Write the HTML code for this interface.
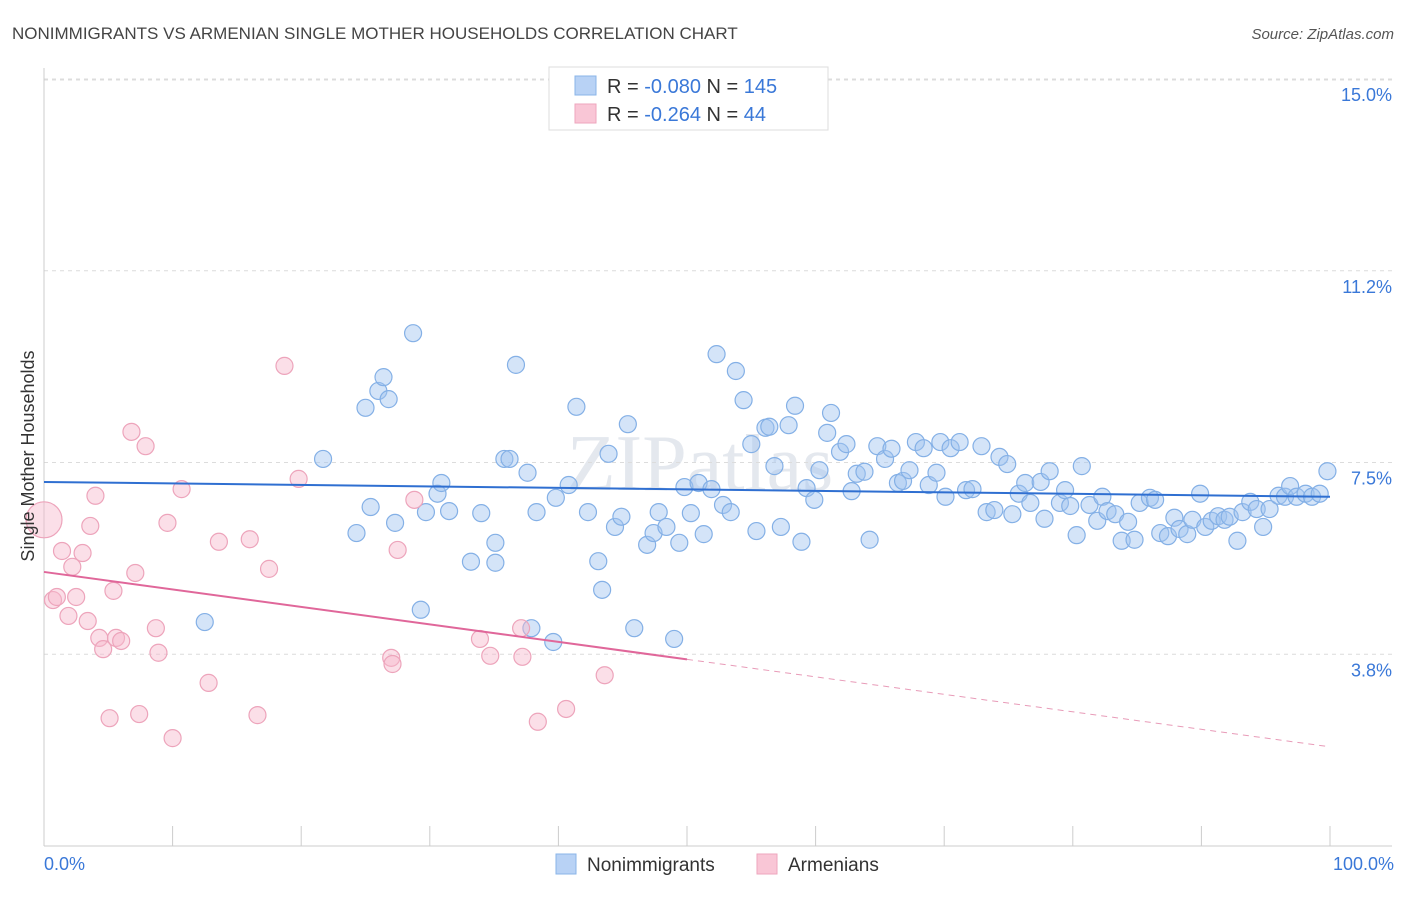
<!DOCTYPE html>
<html><head><meta charset="utf-8"><style>
body{margin:0;background:#fff;font-family:"Liberation Sans",sans-serif}
</style></head><body>
<svg width="1406" height="892" xmlns="http://www.w3.org/2000/svg" style="font-family:'Liberation Sans',sans-serif">
<text x="12" y="39" font-size="17" fill="#444">NONIMMIGRANTS VS ARMENIAN SINGLE MOTHER HOUSEHOLDS CORRELATION CHART</text>
<text x="1394" y="39" font-size="15" fill="#555" text-anchor="end" font-style="italic">Source: ZipAtlas.com</text>
<text x="700" y="490" font-size="80" fill="#e4e8ee" text-anchor="middle" font-family="Liberation Serif">ZIPatlas</text>
<g id="grid"></g>
<g id="axes"></g>
<g id="pts"></g>
<g id="trend"></g>
<text transform="translate(34,456) rotate(-90)" font-size="18" fill="#333" text-anchor="middle">Single Mother Households</text>
<g>
<rect x="549" y="67" width="279" height="63" fill="#fff" stroke="#ddd"/>
<rect x="575" y="76" width="21" height="19" fill="#b8d2f5" stroke="#8ab4e8"/>
<rect x="575" y="104" width="21" height="19" fill="#f9c6d6" stroke="#eea6bd"/>
<text x="607" y="93" font-size="20" fill="#333">R = <tspan fill="#3a78d8">-0.080</tspan>   N = <tspan fill="#3a78d8">145</tspan></text>
<text x="607" y="121" font-size="20" fill="#333">R = <tspan fill="#3a78d8"> -0.264</tspan>   N = <tspan fill="#3a78d8"> 44</tspan></text>
</g>
<g>
<rect x="556" y="854" width="20" height="20" fill="#b8d2f5" stroke="#8ab4e8"/>
<text x="587" y="871" font-size="19" fill="#333">Nonimmigrants</text>
<rect x="757" y="854" width="20" height="20" fill="#f9c6d6" stroke="#eea6bd"/>
<text x="788" y="871" font-size="19" fill="#333">Armenians</text>
</g>
</svg>
<script>
const yTicks=[3.75,7.5,11.25,15];
const yTickLabels=["3.8%","7.5%","11.2%","15.0%"];
const xTickLabels=["0.0%","100.0%"];
const blueX=[12.5,21.7,24.3,25.0,26.0,26.4,26.8,25.4,27.3,28.7,29.3,29.7,30.6,30.9,31.5,33.2,34.0,35.1,35.1,35.8,36.2,36.7,37.6,37.9,38.3,39.6,39.8,40.8,41.4,42.3,43.1,43.4,43.9,44.4,44.9,45.4,45.9,46.9,47.4,47.8,48.4,49.0,49.4,49.8,50.3,50.9,51.3,51.9,52.3,52.8,53.4,53.8,54.4,55.0,55.4,56.1,56.4,56.8,57.3,57.9,58.4,58.9,59.3,59.9,60.3,60.9,61.2,61.9,62.4,62.8,63.2,63.8,64.2,64.8,65.4,65.9,66.4,66.8,67.3,67.8,68.4,68.8,69.4,69.7,70.1,70.5,71.2,71.7,72.2,72.9,73.3,73.9,74.3,74.9,75.3,75.8,76.3,76.7,77.5,77.8,78.2,79.0,79.4,79.8,80.3,80.7,81.3,81.9,82.3,82.7,83.3,83.8,84.3,84.8,85.2,86.0,86.4,86.8,87.4,87.9,88.3,88.9,89.3,89.9,90.3,90.8,91.3,91.8,92.2,92.8,93.2,93.8,94.3,94.8,95.3,96.0,96.5,96.9,97.4,98.1,98.6,99.2,99.8];
const blueY=[4.38,7.57,6.12,8.57,8.90,9.17,8.74,6.63,6.32,10.03,4.62,6.53,6.89,7.10,6.55,5.56,6.51,5.54,5.93,7.57,7.57,9.41,7.30,4.26,6.53,3.99,6.81,7.06,8.59,6.53,5.57,5.01,7.67,6.24,6.44,8.25,4.26,5.89,6.12,6.53,6.24,4.05,5.93,7.02,6.51,7.10,6.10,6.98,9.62,6.67,6.53,9.29,8.72,7.86,6.16,8.18,8.20,7.43,6.24,8.23,8.61,5.95,7.00,6.77,7.35,8.08,8.47,7.71,7.86,6.94,7.28,7.32,5.99,7.82,7.57,7.77,7.10,7.14,7.35,7.90,7.78,7.06,7.30,7.90,6.83,7.78,7.90,6.96,6.98,7.82,6.53,6.57,7.61,7.47,6.49,6.89,7.10,6.71,7.12,6.40,7.33,6.71,6.96,6.65,6.08,7.43,6.67,6.36,6.83,6.55,6.49,5.97,6.34,5.99,6.71,6.81,6.77,6.12,6.06,6.42,6.20,6.10,6.38,6.89,6.24,6.36,6.45,6.38,6.44,5.97,6.53,6.73,6.59,6.24,6.59,6.85,6.83,7.04,6.83,6.89,6.83,6.89,7.33];
const pinkX=[0,0.7,1.0,1.4,1.9,2.2,2.5,3.0,3.4,3.6,4.0,4.3,4.6,5.1,5.4,5.6,6.0,6.8,7.1,7.4,7.9,8.7,8.9,9.6,10.0,10.7,12.8,13.6,16.0,16.6,17.5,18.7,19.8,27.0,27.1,27.5,28.8,33.9,34.7,37.1,37.2,38.4,40.6,43.6];
const pinkY=[6.38,4.81,4.87,5.77,4.50,5.46,4.87,5.73,4.40,6.26,6.85,4.07,3.85,2.50,4.99,4.07,4.01,8.10,5.34,2.58,7.82,4.26,3.78,6.32,2.11,6.98,3.19,5.95,6.00,2.56,5.42,9.39,7.18,3.68,3.56,5.79,6.77,4.05,3.72,4.26,3.70,2.43,2.68,3.34];
const blueTrend=[7.12,6.83];
const pinkTrend=[5.36,1.94];
const pinkSolidEnd=50;
const NS="http://www.w3.org/2000/svg";
const X0=44,X1=1330,YB=846,YPX=51.13;
const sx=v=>X0+(X1-X0)*v/100, sy=v=>YB-v*YPX;
function mk(tag,attrs,parent){const e=document.createElementNS(NS,tag);for(const k in attrs)e.setAttribute(k,attrs[k]);document.getElementById(parent).appendChild(e);return e;}
yTicks.forEach((t,i)=>{
 const l=mk('line',{x1:44,x2:1392,y1:sy(t),y2:sy(t),stroke:'#dcdcdc','stroke-dasharray':'4,4'},'grid');
 
 
 const tx=mk('text',{x:1392,y:sy(t)+22,'font-size':18,fill:'#3a78d8','text-anchor':'end'},'axes');
 tx.textContent=yTickLabels[i];
 
 
});
const tl=mk('line',{x1:44,x2:1392,y1:80,y2:80,stroke:'#dcdcdc','stroke-dasharray':'4,4'},'grid');


const ya=mk('line',{x1:44,x2:44,y1:68,y2:846,stroke:'#ccc'},'axes');


const xa=mk('line',{x1:44,x2:1392,y1:846,y2:846,stroke:'#ccc'},'axes');


for(let i=0;i<=10;i++){const t=mk('line',{x1:sx(i*10),x2:sx(i*10),y1:826,y2:846,stroke:'#ccc'},'axes');
 
 }
const xl0=mk('text',{x:44,y:870,'font-size':18,fill:'#3a78d8'},'axes');xl0.textContent=xTickLabels[0];


const xl1=mk('text',{x:1394,y:870,'font-size':18,fill:'#3a78d8','text-anchor':'end'},'axes');xl1.textContent=xTickLabels[1];


blueX.forEach((v,i)=>{const c=mk('circle',{cx:sx(v),cy:sy(blueY[i]),r:8.5,fill:'rgba(160,196,240,0.45)',stroke:'#84b0e6','stroke-width':1.2},'pts');
 
 });
pinkX.forEach((v,i)=>{const c=mk('circle',{cx:sx(v),cy:sy(pinkY[i]),r:i===0?18:8.5,fill:'rgba(247,184,204,0.45)',stroke:'#eda4bb','stroke-width':1.2},'pts');
 
 });
const bt=mk('line',{x1:sx(0),y1:sy(blueTrend[0]),x2:sx(100),y2:sy(blueTrend[1]),stroke:'#2f6fd1','stroke-width':2},'trend');


const pm=pinkTrend[0]+(pinkTrend[1]-pinkTrend[0])*pinkSolidEnd/100;
const pt=mk('line',{x1:sx(0),y1:sy(pinkTrend[0]),x2:sx(pinkSolidEnd),y2:sy(pm),stroke:'#e0679a','stroke-width':2},'trend');


const pd=mk('line',{x1:sx(pinkSolidEnd),y1:sy(pm),x2:sx(100),y2:sy(pinkTrend[1]),stroke:'#e89bb8','stroke-width':1,'stroke-dasharray':'6,5'},'trend');


</script>
</body></html>
